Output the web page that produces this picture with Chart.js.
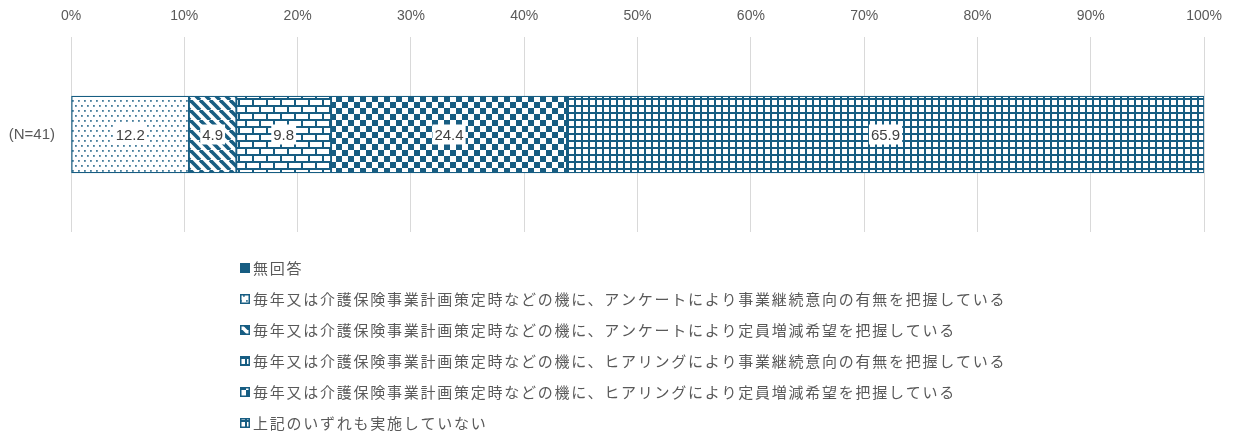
<!DOCTYPE html>
<html>
<head>
<meta charset="utf-8">
<script src="https://cdn.jsdelivr.net/npm/chart.js@4/dist/chart.umd.min.js"></script>
<style>
  html, body { margin: 0; padding: 0; background: #ffffff; }
  #wrap { position: relative; width: 1234px; height: 435px; }
</style>
</head>
<body>
<div id="wrap"><canvas id="c" width="1234" height="435"></canvas></div>
<script>
// ---- data ----
const categories = ['(N=41)'];
const seriesNames = [
  '無回答',
  '毎年又は介護保険事業計画策定時などの機に、アンケートにより事業継続意向の有無を把握している',
  '毎年又は介護保険事業計画策定時などの機に、アンケートにより定員増減希望を把握している',
  '毎年又は介護保険事業計画策定時などの機に、ヒアリングにより事業継続意向の有無を把握している',
  '毎年又は介護保険事業計画策定時などの機に、ヒアリングにより定員増減希望を把握している',
  '上記のいずれも実施していない'
];
const seriesValues = [0, 12.2, 4.9, 9.8, 24.4, 65.9];
const patternKinds = ['solid', 'dots', 'stripes', 'brick', 'checker', 'grid'];
const xTickValues = [0, 10, 20, 30, 40, 50, 60, 70, 80, 90, 100];

// ---- styles ----
const C = '#175d82';
const TEXT = '#595959';

function makePattern(kind) {
  if (kind === 'solid') return C;
  const cv = document.createElement('canvas');
  const g = cv.getContext('2d');
  let w = 8, h = 8;
  if (kind === 'dots') { w = 6; h = 10; }
  if (kind === 'stripes') { w = 10; h = 10; }
  if (kind === 'brick') { w = 14; h = 14; }
  if (kind === 'checker') { w = 12; h = 12; }
  if (kind === 'grid') { w = 7; h = 7; }
  cv.width = w; cv.height = h;
  g.fillStyle = '#ffffff';
  g.fillRect(0, 0, w, h);
  g.fillStyle = C; g.strokeStyle = C;
  if (kind === 'dots') {
    g.fillStyle = 'rgba(23,93,130,0.8)';
    g.fillRect(0, 0, 1.8, 1.8);
    g.fillRect(3, 5, 1.8, 1.8);
  } else if (kind === 'stripes') {
    g.lineWidth = 3.6;
    for (let x0 = -20; x0 <= 20; x0 += 10) {
      g.beginPath(); g.moveTo(x0, 0); g.lineTo(x0 + 10, 10); g.stroke();
    }
  } else if (kind === 'brick') {
    g.fillRect(0, 0, 14, 2);
    g.fillRect(0, 7, 14, 2);
    g.fillRect(0, 0, 2, 7);
    g.fillRect(7, 7, 2, 7);
  } else if (kind === 'checker') {
    g.fillRect(0, 0, 6, 6);
    g.fillRect(6, 6, 6, 6);
  } else if (kind === 'grid') {
    g.fillRect(0, 0, 7, 2);
    g.fillRect(0, 0, 2, 7);
  }
  return g.createPattern(cv, 'repeat');
}

const total = seriesValues.reduce((a, b) => a + b, 0);

const datasets = seriesNames.map((name, i) => ({
  label: name,
  data: [seriesValues[i] / total * 100],
  rawValue: seriesValues[i],
  backgroundColor: makePattern(patternKinds[i]),
  borderColor: C,
  borderWidth: 1.3,
  borderSkipped: false,
  barThickness: 77
}));

// data labels with white background
const labelPlugin = {
  id: 'segLabels',
  afterDatasetsDraw(chart) {
    const ctx = chart.ctx;
    ctx.save();
    ctx.font = '15px "Liberation Sans", Arial, sans-serif';
    ctx.textAlign = 'center';
    ctx.textBaseline = 'middle';
    chart.data.datasets.forEach((ds, i) => {
      if (!ds.rawValue) return;
      const el = chart.getDatasetMeta(i).data[0];
      const cx = (el.x + el.base) / 2;
      const cy = el.y;
      const txt = ds.rawValue.toFixed(1);
      const tw = ctx.measureText(txt).width;
      ctx.fillStyle = '#ffffff';
      ctx.fillRect(cx - tw / 2 - 2, cy - 10, tw + 4, 20);
      ctx.fillStyle = '#404040';
      ctx.fillText(txt, cx, cy + 1);
    });
    ctx.restore();
  }
};

// vertical legend, left aligned
const legendPlugin = {
  id: 'vLegend',
  afterDraw(chart) {
    const ctx = chart.ctx;
    ctx.save();
    const x0 = 240, y0 = 268, step = 31;
    ctx.font = '15px "Noto Sans CJK JP", sans-serif';
    if ('letterSpacing' in ctx) ctx.letterSpacing = '1.75px';
    ctx.textBaseline = 'middle';
    ctx.textAlign = 'left';
    chart.data.datasets.forEach((ds, i) => {
      const y = y0 + i * step;
      ctx.fillStyle = '#ffffff';
      ctx.fillRect(x0, y - 5, 10, 10);
      ctx.fillStyle = ds.backgroundColor;
      ctx.fillRect(x0, y - 5, 10, 10);
      ctx.strokeStyle = C;
      ctx.lineWidth = 1.5;
      ctx.strokeRect(x0 + 0.75, y - 4.25, 8.5, 8.5);
      ctx.fillStyle = TEXT;
      ctx.fillText(ds.label, x0 + 13, y);
    });
    ctx.restore();
  }
};

new Chart(document.getElementById('c'), {
  type: 'bar',
  data: { labels: categories, datasets },
  options: {
    indexAxis: 'y',
    responsive: false,
    animation: false,
    layout: { padding: { left: 0, right: 26, top: 0, bottom: 203 } },
    plugins: { legend: { display: false }, tooltip: { enabled: false } },
    scales: {
      x: {
        position: 'top',
        stacked: true,
        min: 0, max: 100,
        afterBuildTicks(scale) { scale.ticks = xTickValues.map(v => ({ value: v })); },
        ticks: {
          callback: v => v + '%',
          color: TEXT,
          font: { family: '"Liberation Sans", Arial, sans-serif', size: 14 },
          padding: 12,
          maxRotation: 0
        },
        grid: { color: '#d9d9d9', lineWidth: 1, drawTicks: false },
        border: { display: false },
        afterFit(scale) { scale.height = 37; }
      },
      y: {
        stacked: true,
        ticks: {
          color: TEXT,
          font: { family: '"Liberation Sans", Arial, sans-serif', size: 15 },
          padding: 16
        },
        grid: { display: false, drawTicks: false },
        border: { display: false },
        afterFit(scale) { scale.width = 71; }
      }
    }
  },
  plugins: [labelPlugin, legendPlugin]
});
</script>
</body>
</html>
